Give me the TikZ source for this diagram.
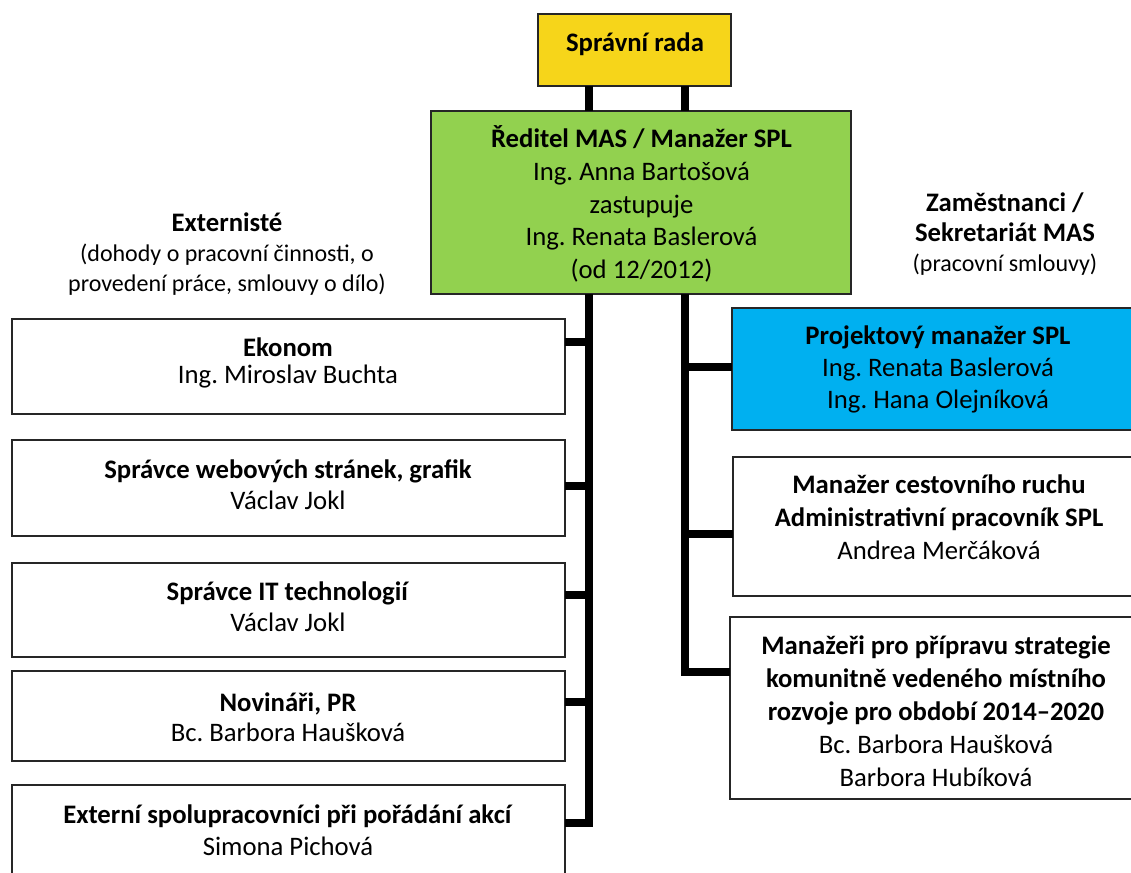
\documentclass[tikz,border=0pt]{standalone}
\usepackage{fontspec}
\setmainfont{Carlito}
\frenchspacing
\definecolor{ryellow}{HTML}{F6D51A}
\definecolor{rgreen}{HTML}{92D14F}
\definecolor{rblue}{HTML}{00B0F0}
\newcommand{\hd}[1]{\textbf{#1}}
\tikzset{
  bx/.style={draw=black!85,line width=1.8pt,anchor=north west,inner sep=0pt,outer sep=0pt},
  bar/.style={line width=8pt,draw=black,line join=miter},
  lbl/.style={align=center,inner sep=0pt,anchor=center},
  sp/.style={font=\fontsize{26.7}{#1}\selectfont},
  ss/.style={font=\fontsize{24}{30}\selectfont}
}
\newcommand{\hfs}{\fontsize{26.7}{30}\selectfont}
\begin{document}
\begin{tikzpicture}[x=1pt,y=-1pt]
\useasboundingbox (0,0) rectangle (1131,872);
% trunk positions
\coordinate (tl) at (589,0);
\coordinate (tr) at (684.5,0);
% boxes
\node[bx,fill=ryellow,minimum width=193pt,minimum height=72pt] (rada) at (538,14) {};
\node[bx,fill=rgreen,minimum width=420pt,minimum height=183pt] (red) at (431,111) {};
\node[bx,fill=white,minimum width=553pt,minimum height=95pt] (a1) at (12,319) {};
\node[bx,fill=white,minimum width=553pt,minimum height=96pt] (a2) at (12,440) {};
\node[bx,fill=white,minimum width=553pt,minimum height=94pt] (a3) at (12,563) {};
\node[bx,fill=white,minimum width=553pt,minimum height=90pt] (a4) at (12,671) {};
\node[bx,fill=white,minimum width=553pt,minimum height=95pt] (a5) at (12,785) {};
\node[bx,fill=rblue,minimum width=405pt,minimum height=122pt] (b1) at (732,308) {};
\node[bx,fill=white,minimum width=405pt,minimum height=139pt] (b2) at (733,457) {};
\node[bx,fill=white,minimum width=405pt,minimum height=182pt] (b3) at (730,617) {};
% junctions
\coordinate (j1) at (589,342);
\coordinate (j2) at (589,486);
\coordinate (j3) at (589,595);
\coordinate (j4) at (589,702);
\coordinate (j5) at (589,822.5);
\coordinate (k1) at (684.5,367);
\coordinate (k2) at (684.5,534);
\coordinate (k3) at (684.5,671.5);
% connectors
\draw[bar] (rada.south -| tl) -- (red.north -| tl);
\draw[bar] (rada.south -| tr) -- (red.north -| tr);
\draw[bar] (red.south -| tl) -- (j5) -- (j5 -| a5.east);
\draw[bar] (red.south -| tr) -- (k3) -- (k3 -| b3.west);
\draw[bar] (j1) -- (j1 -| a1.east);
\draw[bar] (j2) -- (j2 -| a2.east);
\draw[bar] (j3) -- (j3 -| a3.east);
\draw[bar] (j4) -- (j4 -| a4.east);
\draw[bar] (k1) -- (k1 -| b1.west);
\draw[bar] (k2) -- (k2 -| b2.west);
% texts
\node[lbl,sp=29] (trada) at (635,44.5) {\hd{Správní rada}};
\node[lbl,sp=32.6] (tred) at (641.5,204) {\hd{Ředitel MAS / Manažer SPL}\\Ing. Anna Bartošová\\zastupuje\\Ing. Renata Baslerová\\(od 12/2012)};
\node[lbl,sp=27] (ta1) at (288,363) {\hd{Ekonom}\\Ing. Miroslav Buchta};
\node[lbl,sp=31] (ta2) at (288,485) {\hd{Správce webových stránek, grafik}\\Václav Jokl};
\node[lbl,sp=31] (ta3) at (288,607) {\hd{Správce IT technologií}\\Václav Jokl};
\node[lbl,sp=30] (ta4) at (288,717) {\hd{Novináři, PR}\\Bc. Barbora Haušková};
\node[lbl,sp=32] (ta5) at (288,830) {\hd{Externí spolupracovníci při pořádání akcí}\\Simona Pichová};
\node[lbl,sp=32] (tb1) at (938,369) {\hd{Projektový manažer SPL}\\Ing. Renata Baslerová\\Ing. Hana Olejníková};
\node[lbl,sp=33] (tb2) at (939,517) {\hd{Manažer cestovního ruchu}\\\hd{Administrativní pracovník SPL}\\Andrea Merčáková};
\node[lbl,sp=33] (tb3) at (936,711) {\hd{Manažeři pro přípravu strategie}\\\hd{komunitně vedeného místního}\\\hd{rozvoje pro období 2014–2020}\\Bc. Barbora Haušková\\Barbora Hubíková};
\node[lbl,ss] (te) at (227,254) {{\hfs\hd{Externisté}}\\(dohody o pracovní činnosti, o\\provedení práce, smlouvy o dílo)};
\node[lbl,ss] (tz) at (1005,234) {{\hfs\hd{Zaměstnanci /}}\\{\hfs\hd{Sekretariát MAS}}\\(pracovní smlouvy)};
\end{tikzpicture}
\end{document}
